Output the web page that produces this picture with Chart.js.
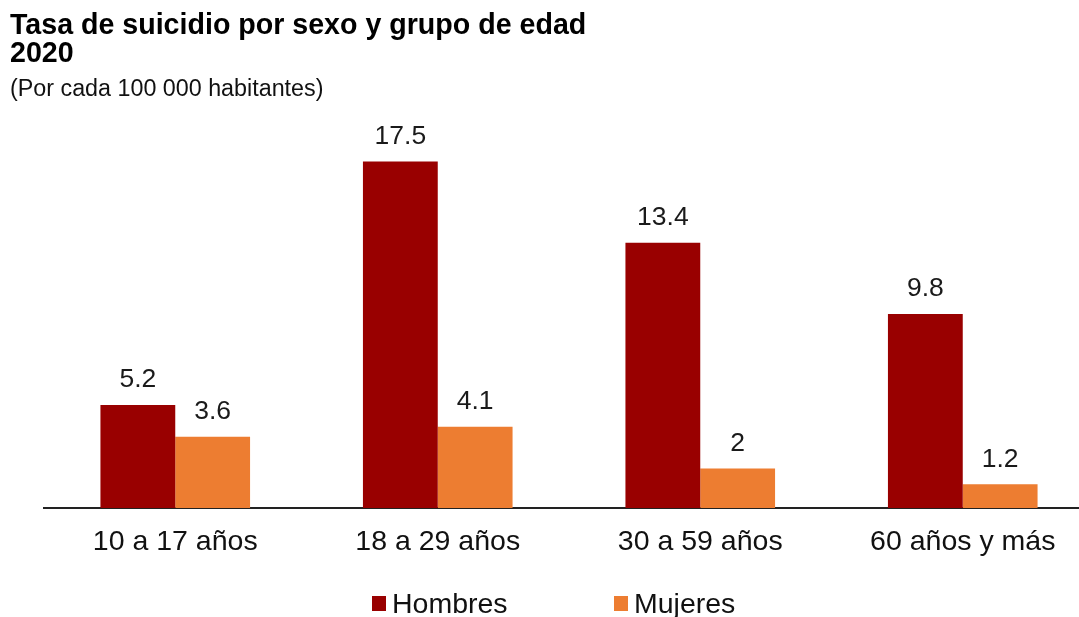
<!DOCTYPE html>
<html>
<head>
<meta charset="utf-8">
<script src="https://cdn.jsdelivr.net/npm/chart.js@4/dist/chart.umd.min.js"></script>
<style>
  html, body { margin: 0; padding: 0; background: #fff; overflow: hidden; width: 1079px; height: 617px; }
  #wrap { position: absolute; left: 0; top: 0; width: 1100px; height: 617px; }
  .t { position: absolute; font-family: "Liberation Sans", Arial, sans-serif; color: #000; white-space: nowrap; }
  #title { left: 10px; top: 10px; font-size: 28.6px; font-weight: bold; line-height: 28px; }
  #sub { left: 10px; top: 75px; font-size: 23.3px; line-height: 26px; color: #111; }
  .leg { position: absolute; top: 588px; font-family: "Liberation Sans", Arial, sans-serif; font-size: 28.5px; line-height: 30px; color: #111; }
  .leg span.box { position: absolute; left: 0; top: 8px; width: 14px; height: 15px; }
  .leg span.txt { position: absolute; left: 20px; top: 0; white-space: nowrap; }
</style>
</head>
<body>
<div id="wrap"><canvas id="c" width="1100" height="617"></canvas></div>
<div class="t" id="title">Tasa de suicidio por sexo y grupo de edad<br>2020</div>
<div class="t" id="sub">(Por cada 100 000 habitantes)</div>
<div id="legend"></div>
<script>
const categories = ["10 a 17 años", "18 a 29 años", "30 a 59 años", "60 años y más"];
const seriesNames = ["Hombres", "Mujeres"];
const hombres = [5.2, 17.5, 13.4, 9.8];
const mujeres = [3.6, 4.1, 2, 1.2];
const colors = ["#990000", "#ED7D31"];

const valueLabels = {
  id: 'valueLabels',
  afterDatasetsDraw(chart) {
    const ctx = chart.ctx;
    ctx.save();
    ctx.font = '26.5px "Liberation Sans", Arial, sans-serif';
    ctx.fillStyle = '#1a1a1a';
    ctx.textAlign = 'center';
    ctx.textBaseline = 'middle';
    chart.data.datasets.forEach((ds, i) => {
      const meta = chart.getDatasetMeta(i);
      meta.data.forEach((bar, j) => {
        ctx.fillText(String(ds.data[j]), bar.x, bar.y - 25);
      });
    });
    ctx.restore();
  }
};

const chart = new Chart(document.getElementById('c'), {
  type: 'bar',
  data: {
    labels: categories,
    datasets: [
      { label: seriesNames[0], data: hombres, backgroundColor: colors[0], borderWidth: 0 },
      { label: seriesNames[1], data: mujeres, backgroundColor: colors[1], borderWidth: 0 }
    ]
  },
  options: {
    responsive: false,
    animation: false,
    devicePixelRatio: 1,
    layout: { padding: { left: 44, right: 6, top: 112, bottom: 49 } },
    plugins: { legend: { display: false }, tooltip: { enabled: false } },
    datasets: { bar: { categoryPercentage: 0.57, barPercentage: 1.0 } },
    scales: {
      x: {
        grid: { display: false, drawTicks: false },
        border: { display: true, color: '#222', width: 2 },
        ticks: { color: '#111', padding: 17, font: { family: '"Liberation Sans", Arial, sans-serif', size: 28.5 } },
        afterFit(scale) { scale.height = 60; }
      },
      y: { display: false, min: 0, max: 20 }
    }
  },
  plugins: [valueLabels]
});

// legend built from dataset names and colours
const legendPos = [372, 614];
const legendEl = document.getElementById('legend');
chart.data.datasets.forEach((ds, i) => {
  const d = document.createElement('div');
  d.className = 'leg';
  d.style.left = legendPos[i] + 'px';
  d.innerHTML = '<span class="box" style="background:' + ds.backgroundColor + '"></span><span class="txt">' + ds.label + '</span>';
  legendEl.appendChild(d);
});
</script>
</body>
</html>
